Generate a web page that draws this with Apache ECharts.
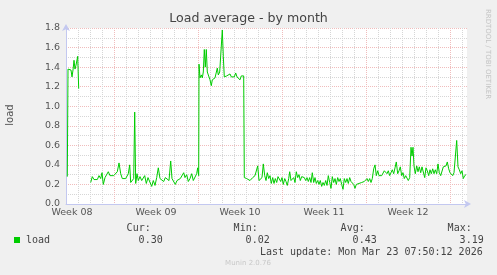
<!DOCTYPE html>
<html><head><meta charset="utf-8">
<script src="https://cdn.jsdelivr.net/npm/echarts@6/dist/echarts.min.js"></script>
<style>html,body{margin:0;padding:0;background:#f0f0f0}#c{width:497px;height:275px}</style>
</head><body><div id="c"></div>
<script>
// ---- chart data ----
const chartTitle = 'Load average - by month';
const seriesName = 'load';
const yAxisName = 'load';
const weekLabels = ['Week 08', 'Week 09', 'Week 10', 'Week 11', 'Week 12'];
const yMin = 0, yMax = 1.8, yStep = 0.2;
// x unit: 2-hour RRD steps since graph start
const stepsPerDay = 12;
const firstWeekLineStep = 48;
const totalSteps = 401;
const steps = [
  1.3,2,3,4,5,6,7,8,9,10,11.7,12.7,
  18,
  24.7,26.3,28,29.7,31.3,33,34.7,36,37.3,39,40.7,42.3,44,46,47.7,49.7,51.3,53,54.7,56.3,58,59.7,61,62.3,63.7,64.7,66.3,67.7,68.7,69.7,71,72.3,74,75.7,77.3,78.7,80.3,82,83.7,85.7,87.3,89,90.7,92.3,94,96,97.7,99.3,101,103,104.7,106,107.7,109.3,111,112.7,114.3,116,117.7,119,120.7,122.3,124,125.7,127.3,129,130.7,131.7,132.7,
  133,134,135.3,136.3,137.3,138.3,139.3,140.3,141.3,142.7,144,145.3,146.3,147.7,149,150.3,151.3,152.3,153.7,155,156.3,157.3,158.3,159.7,160.7,162.3,164,165.3,166.7,168.3,169.7,171,172.7,174,175.3,176.7,177.7,
  178.3,180.7,184,186.7,189,190.7,191.7,193,194.7,196,197.3,198.7,200,201.3,202.7,204,205.3,206.7,208,209.3,210.7,212,213.3,214.7,216,217.3,218.7,220,221.3,222.7,223.7,225,226.3,227.7,229,230.3,231.7,233,234.3,235.7,237,238.3,239.7,241,242.3,243.7,245,246.3,247.7,249,250.3,251.7,253,254.3,255.7,257,258.3,259.7,261,262.3,263.7,265,266.3,267.7,269,270.3,271.7,273,274.3,275.7,277,278.3,279.7,281,282.3,283.7,285,286.3,287.7,289,290.3,291.7,293,294.3,295.7,297,298.3,299.7,301,302.3,303.7,305,306.3,307.7,309,310.3,311.7,313,314.3,315.7,317,318.3,319.7,321,322.3,323.7,325,326.3,327.7,329,330.3,331.7,333,334.3,335.7,337,338.3,339.7,341,342.3,343.7,345,346,347,348,349.3,350.7,352,353.3,354.7,356,357.3,358.7,360,361.3,362.7,364,365.3,366.7,368,369.3,370.7,372,373.3,374.7,376,377.3,378.7,380,381.3,382.7,384,385.3,386.7,388,389.3,390.7,392,393.3,394.7,396,397.3,398.7,400
];
const loads = [
  0.28,1.38,1.40,1.36,1.37,1.30,1.37,1.47,1.38,1.42,1.51,1.18,
  null,
  0.22,0.28,0.25,0.27,0.25,0.29,0.26,0.32,0.20,0.27,0.26,0.33,0.29,0.27,0.29,0.27,0.33,0.42,0.31,0.26,0.25,0.26,0.25,0.31,0.40,0.22,0.22,0.26,0.94,0.21,0.31,0.24,0.28,0.24,0.26,0.29,0.21,0.27,0.26,0.18,0.24,0.19,0.27,0.37,0.26,0.28,0.23,0.27,0.26,0.24,0.44,0.26,0.28,0.20,0.24,0.23,0.26,0.27,0.32,0.27,0.30,0.23,0.26,0.31,0.24,0.26,0.31,0.37,0.29,
  1.43,1.29,1.32,1.29,1.35,1.58,1.40,1.58,1.35,1.37,1.27,1.21,1.27,1.25,1.29,1.28,1.39,1.32,1.35,1.33,1.78,1.51,1.30,1.30,1.31,1.30,1.33,1.30,1.32,1.30,1.34,1.30,1.31,1.27,1.31,1.32,1.31,
  0.27,0.26,0.24,0.27,0.29,0.31,0.39,0.24,0.26,0.27,0.41,0.29,0.24,0.32,0.26,0.29,0.21,0.27,0.21,0.26,0.22,0.28,0.26,0.23,0.27,0.20,0.26,0.23,0.19,0.26,0.33,0.24,0.26,0.27,0.22,0.33,0.27,0.30,0.24,0.28,0.26,0.27,0.24,0.27,0.23,0.27,0.22,0.32,0.22,0.27,0.21,0.24,0.20,0.24,0.18,0.22,0.19,0.24,0.19,0.29,0.22,0.16,0.28,0.22,0.26,0.20,0.27,0.23,0.26,0.20,0.15,0.26,0.22,0.26,0.21,0.27,0.23,0.21,0.20,0.16,0.20,0.19,0.21,0.20,0.22,0.21,0.23,0.22,0.26,0.23,0.26,0.22,0.26,0.36,0.40,0.29,0.34,0.29,0.29,0.29,0.28,0.34,0.35,0.31,0.34,0.29,0.32,0.35,0.31,0.37,0.43,0.31,0.34,0.38,0.29,0.32,0.26,0.29,0.27,0.24,0.27,0.58,0.49,0.58,0.39,0.31,0.39,0.33,0.38,0.32,0.38,0.39,0.27,0.37,0.34,0.29,0.35,0.31,0.36,0.31,0.35,0.31,0.41,0.32,0.29,0.31,0.38,0.36,0.39,0.43,0.36,0.32,0.31,0.29,0.32,0.34,0.65,0.38,0.35,0.31,0.34,0.26,0.29,0.30
];
const statNames = ['Cur:', 'Min:', 'Avg:', 'Max:'];
const statValues = ['0.30', '0.02', '0.43', '3.19'];
const lastUpdate = 'Last update: Mon Mar 23 07:50:12 2026';
const footerText = 'Munin 2.0.76';
const watermark = 'RRDTOOL / TOBI OETIKER';

// ---- build ----
const lineData = steps.map((s, i) => [s, loads[i]]);
const RED = '#f0bcbc', GRAY = '#d6d6d6', AXIS = '#c3c8f0';
const SANS = 'DejaVu Sans', MONO = 'DejaVu Sans Mono';
const dayColors = [];
for (let d = 0; d < 7; d++) dayColors.push(d === (firstWeekLineStep / stepsPerDay) % 7 ? RED : GRAY);
const labelStep = stepsPerDay / 2;
const firstLabelStep = firstWeekLineStep - 7 * stepsPerDay / 2;

const graphics = [];
graphics.push({type: 'text', x: 10, y: 115, rotation: Math.PI / 2,
  style: {text: yAxisName, fill: '#555', font: '10px "' + SANS + '"', textAlign: 'center', textVerticalAlign: 'middle'}});
graphics.push({type: 'text', x: 487.5, y: 54, rotation: -Math.PI / 2,
  style: {text: watermark, fill: '#c4c4c4', font: '7px "' + SANS + '"', textAlign: 'center', textVerticalAlign: 'middle'}});
statNames.forEach((n, i) => {
  const right = 162.7 + 107 * i;
  graphics.push({type: 'text', x: right - 12, y: 228.5,
    style: {text: n, fill: '#444', font: '10px "' + MONO + '"', textAlign: 'right', textVerticalAlign: 'middle'}});
  graphics.push({type: 'text', x: right, y: 240,
    style: {text: statValues[i], fill: '#444', font: '10px "' + MONO + '"', textAlign: 'right', textVerticalAlign: 'middle'}});
});
graphics.push({type: 'text', x: 482.7, y: 252, style: {text: lastUpdate, fill: '#444', font: '10px "' + MONO + '"', textAlign: 'right', textVerticalAlign: 'middle'}});
graphics.push({type: 'text', x: 248, y: 263.5, style: {text: footerText, fill: '#c8c8c8', font: '7px "' + SANS + '"', textAlign: 'center', textVerticalAlign: 'middle'}});

const chart = echarts.init(document.getElementById('c'), null, {renderer: 'canvas'});
chart.setOption({
  animation: false,
  backgroundColor: '#f0f0f0',
  title: {text: chartTitle, left: 'center', top: 12, padding: 0,
    textStyle: {fontFamily: SANS, fontSize: 12.6, fontWeight: 'normal', color: '#444'}},
  legend: {data: [seriesName], left: 14, top: 235, padding: 0, icon: 'rect', itemWidth: 6, itemHeight: 6,
    textStyle: {fontFamily: MONO, fontSize: 10, color: '#444', padding: [0, 0, 0, 1]}},
  grid: {left: 66, top: 28, width: 401, height: 176, show: true, backgroundColor: '#ffffff', borderWidth: 0},
  xAxis: [{
    type: 'value', min: 0, max: totalSteps, interval: stepsPerDay,
    axisLine: {show: true, lineStyle: {color: AXIS, width: 1}, symbol: ['none', 'arrow'], symbolSize: [6, 7], symbolOffset: [0, 4]},
    axisTick: {show: false}, axisLabel: {show: false},
    splitLine: {show: true, showMaxLine: false, lineStyle: {color: dayColors, type: [1, 1], width: 1}}
  }, {
    type: 'value', min: 0, max: totalSteps, interval: labelStep, position: 'bottom',
    axisLine: {show: false}, axisTick: {show: false}, splitLine: {show: false},
    axisLabel: {show: true, margin: 4, fontFamily: SANS, fontSize: 9.5, color: '#555',
      formatter: v => {
        const k = (v - firstLabelStep) / (7 * stepsPerDay);
        return (Number.isInteger(k) && k >= 0 && k < weekLabels.length) ? weekLabels[k] : '';
      }}
  }],
  yAxis: {
    type: 'value', min: yMin, max: yMax, interval: yStep,
    axisLine: {show: true, lineStyle: {color: AXIS, width: 1}, symbol: ['none', 'arrow'], symbolSize: [6, 7], symbolOffset: [0, 4]},
    axisTick: {show: false},
    axisLabel: {margin: 6, fontFamily: SANS, fontSize: 9.5, color: '#555', formatter: v => v.toFixed(1)},
    splitLine: {show: true, lineStyle: {color: RED, type: [1, 1], width: 1}},
    minorTick: {show: false, splitNumber: 2},
    minorSplitLine: {show: true, lineStyle: {color: GRAY, type: [1, 1], width: 1}}
  },
  series: [{
    name: seriesName, type: 'line', xAxisIndex: 0, data: lineData, showSymbol: false, connectNulls: false,
    itemStyle: {color: '#00cc00'}, lineStyle: {color: '#00cc00', width: 1}, z: 5
  }],
  graphic: graphics
});
</script>
</body></html>
